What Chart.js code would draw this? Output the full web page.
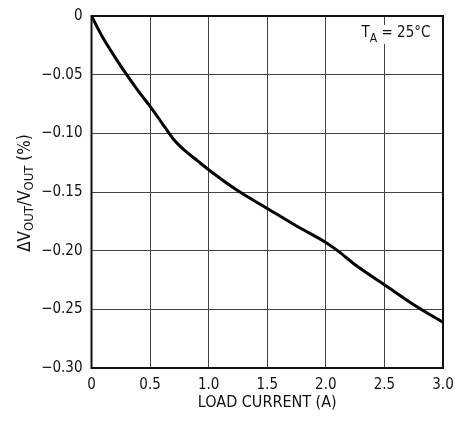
<!DOCTYPE html>
<html>
<head>
<meta charset="utf-8">
<script src="https://cdn.jsdelivr.net/npm/chart.js@4.4.1/dist/chart.umd.min.js"></script>
<style>
  html, body { margin: 0; padding: 0; background: #fff; }
  #c { display: block; }
</style>
</head>
<body>
<canvas id="c" width="457" height="422"></canvas>
<script>
// ---- data ----
const loadCurrent = [0, 0.1, 0.2, 0.3, 0.4, 0.5, 0.6, 0.7, 0.8, 0.9, 1.0, 1.25, 1.5, 1.75, 2.0, 2.1, 2.25, 2.5, 2.75, 3.0];
const deltaVout   = [0, -0.019, -0.035, -0.050, -0.064, -0.077, -0.091, -0.105, -0.115, -0.123, -0.131, -0.149, -0.164, -0.179, -0.193, -0.200, -0.212, -0.229, -0.246, -0.261];
const xTickLabels = ['0', '0.5', '1.0', '1.5', '2.0', '2.5', '3.0'];
const yTickLabels = ['\u22120.30', '\u22120.25', '\u22120.20', '\u22120.15', '\u22120.10', '\u22120.05', '0']; // bottom to top
const xTitle = 'LOAD CURRENT (A)';
const yTitleParts = [['\u0394V', false], ['OUT', true], ['/V', false], ['OUT', true], [' (%)', false]];
const noteParts = [['T', false], ['A', true], [' = 25\u00B0C', false]];

const FONT = "'Liberation Sans Narrow', 'DejaVu Sans Condensed', 'Liberation Sans', sans-serif";
const INK = '#111';

function drawParts(ctx, parts, cx, cy, size, subSize, subDrop) {
  let total = 0;
  const widths = parts.map(([t, sub]) => {
    ctx.font = (sub ? subSize : size) + 'px ' + FONT;
    const w = ctx.measureText(t).width;
    total += w;
    return w;
  });
  let x = cx - total / 2;
  ctx.textAlign = 'left';
  ctx.textBaseline = 'alphabetic';
  parts.forEach(([t, sub], i) => {
    ctx.font = (sub ? subSize : size) + 'px ' + FONT;
    ctx.fillText(t, x, cy + (sub ? subDrop : 0));
    x += widths[i];
  });
  return total;
}

const decor = {
  id: 'decor',
  afterDatasetsDraw(chart) {
    const { ctx, chartArea: a } = chart;
    ctx.save();
    // frame
    ctx.strokeStyle = INK;
    ctx.lineWidth = 2;
    ctx.strokeRect(a.left, a.top, a.right - a.left, a.bottom - a.top);
    // note box
    ctx.fillStyle = '#fff';
    ctx.fillRect(a.right - 86, a.top + 9, 84, 19);
    ctx.fillStyle = INK;
    drawParts(ctx, noteParts, a.right - 47, a.top + 21, 15, 12, 5);
    ctx.restore();
  },
  afterDraw(chart) {
    const { ctx, chartArea: a } = chart;
    ctx.save();
    ctx.fillStyle = INK;
    ctx.translate(30, (a.top + a.bottom) / 2 + 1);
    ctx.rotate(-Math.PI / 2);
    drawParts(ctx, yTitleParts, 0, 0, 17, 13, 3);
    ctx.restore();
  }
};

new Chart(document.getElementById('c'), {
  type: 'line',
  data: {
    datasets: [{
      data: loadCurrent.map((x, i) => ({ x, y: deltaVout[i] })),
      borderColor: '#000',
      borderWidth: 3,
      pointRadius: 0,
      fill: false,
      cubicInterpolationMode: 'monotone'
    }]
  },
  options: {
    responsive: false,
    devicePixelRatio: 1,
    animation: false,
    layout: { padding: { top: 16, right: 14, left: 0, bottom: 0 } },
    plugins: { legend: { display: false }, tooltip: { enabled: false } },
    scales: {
      x: {
        type: 'linear',
        min: 0, max: 3,
        afterFit(s) { s.height = 54; s.paddingRight = 0; s.paddingLeft = 0; },
        grid: { color: '#444', lineWidth: 1, drawTicks: false },
        border: { display: false },
        ticks: {
          stepSize: 0.5,
          padding: 8,
          color: INK,
          font: { family: FONT, size: 15 },
          callback: (v, i) => xTickLabels[i]
        },
        title: {
          display: true,
          text: xTitle,
          color: INK,
          font: { family: FONT, size: 16 },
          padding: { top: 0, bottom: 10 }
        }
      },
      y: {
        type: 'linear',
        min: -0.30, max: 0,
        afterFit(s) { s.width = 91.5; s.paddingTop = 0; s.paddingBottom = 0; },
        grid: { color: '#444', lineWidth: 1, drawTicks: false },
        border: { display: false },
        ticks: {
          stepSize: 0.05,
          padding: 9,
          color: INK,
          font: { family: FONT, size: 15 },
          callback: (v, i) => yTickLabels[i]
        }
      }
    }
  },
  plugins: [decor]
});
</script>
</body>
</html>
